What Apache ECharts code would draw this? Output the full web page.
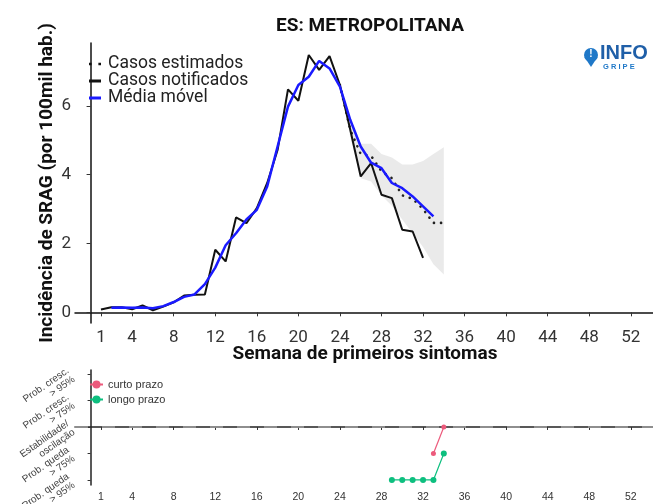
<!DOCTYPE html>
<html><head><meta charset="utf-8">
<script src="https://cdn.jsdelivr.net/npm/echarts@6/dist/echarts.min.js"></script>
<style>html,body{margin:0;padding:0;background:#fff}#c{width:653px;height:504px}</style>
</head><body><div id="c"></div>
<script>
// ---- data ----
const weeks = [1,2,3,4,5,6,7,8,9,10,11,12,13,14,15,16,17,18,19,20,21,22,23,24,25,26,27,28,29,30,31,32];
const notified = [0.08,0.15,0.15,0.09,0.20,0.06,0.17,0.29,0.49,0.51,0.52,1.82,1.48,2.76,2.59,3.03,3.76,4.72,6.48,6.15,7.48,7.05,7.45,6.61,5.30,3.95,4.34,3.42,3.32,2.40,2.35,1.58];
const maWeeks = [2,3,4,5,6,7,8,9,10,11,12,13,14,15,16,17,18,19,20,21,22,23,24,25,26,27,28,29,30,31,32,33];
const movingAvg = [0.13,0.14,0.13,0.14,0.12,0.18,0.30,0.45,0.52,0.82,1.30,1.95,2.30,2.70,2.98,3.66,4.82,5.98,6.61,6.85,7.31,7.09,6.56,5.59,4.82,4.35,4.19,3.76,3.61,3.37,3.08,2.79];
const estWeeks = [24,25,26,27,28,29,30,31,32,33,34];
const estimated = [6.61,5.30,4.60,4.55,4.10,3.90,3.40,3.30,3.00,2.60,2.60];
const bandLow  = [6.61,5.10,3.90,3.80,3.40,3.10,2.70,2.30,1.90,1.40,1.10];
const bandHigh = [6.61,5.50,4.90,4.90,4.60,4.50,4.30,4.30,4.40,4.60,4.80];
const tickWeeks = [1,4,8,12,16,20,24,28,32,36,40,44,48,52];
const yTicks = [0,2,4,6];
const trendLevels = [-2,-1,0,1,2];
const trendLabels = {'-2':'Prob. queda\n> 95%','-1':'Prob. queda\n> 75%','0':'Estabilidade/\noscilação','1':'Prob. cresc.\n> 75%','2':'Prob. cresc.\n> 95%'};
const shortWeeks = [33,34];
const shortTrend = [-1,0];
const longWeeks = [29,30,31,32,33,34];
const longTrend = [-2,-2,-2,-2,-2,-1];

const pairs = (xs, ys) => xs.map((x,i)=>[x, ys[i]]);

const chart = echarts.init(document.getElementById('c'), null, {renderer:'canvas'});
const F = 'Roboto, "Liberation Sans", sans-serif';
const F2 = '"Liberation Sans", Arial, sans-serif';

const option = {
  animation:false,
  backgroundColor:'#fff',
  title:{text:'ES: METROPOLITANA', left:365, top:12, textAlign:'center',
    textStyle:{fontFamily:F, fontSize:19, fontWeight:'bold', color:'#111'}},
  grid:[
    {left:75, top:43, width:587, height:280, outerBoundsMode:'none', containLabel:false},
    {left:75, top:370, width:587, height:115, outerBoundsMode:'none', containLabel:false}
  ],
  xAxis:[
    {gridIndex:0, type:'value', min:-1.5, max:55,
      axisLine:{lineStyle:{color:'#111', width:1.5}},
      axisTick:{customValues:tickWeeks, length:4, lineStyle:{color:'#333'}},
      axisLabel:{customValues:tickWeeks, fontFamily:F, fontSize:17, color:'#333', margin:6, hideOverlap:false},
      splitLine:{show:false}},
    {gridIndex:1, type:'value', min:-1.5, max:55,
      axisLine:{lineStyle:{color:'#222', width:1.5}},
      axisTick:{customValues:tickWeeks, length:3, lineStyle:{color:'#333'}},
      axisLabel:{customValues:tickWeeks, fontFamily:F2, fontSize:10.5, color:'#333', margin:7, hideOverlap:false},
      splitLine:{show:false}}
  ],
  yAxis:[
    {gridIndex:0, type:'value', min:-0.31, max:7.83,
      name:'Incidência de SRAG (por 100mil hab.)', nameLocation:'middle', nameGap:18, nameMoveOverlap:false,
      nameTextStyle:{fontFamily:F, fontSize:19, fontWeight:'bold', color:'#111'},
      axisLine:{show:true, lineStyle:{color:'#111', width:1.5}},
      axisTick:{show:true, customValues:yTicks, length:4, lineStyle:{color:'#333'}},
      axisLabel:{customValues:yTicks, fontFamily:F, fontSize:17, color:'#333', margin:4},
      splitLine:{show:false}},
    {gridIndex:1, type:'value', min:-2.19, max:2.15,
      axisLine:{show:true, lineStyle:{color:'#222', width:1.5}},
      axisTick:{show:true, customValues:trendLevels, length:3, lineStyle:{color:'#333'}},
      axisLabel:{customValues:trendLevels, rotate:35, fontFamily:F2, fontSize:10, color:'#444', margin:4, lineHeight:10.5,
        hideOverlap:false, showMinLabel:true, showMaxLabel:true,
        formatter:v=>trendLabels[String(Math.round(v))] || ''},
      splitLine:{show:false}}
  ],
  legend:[
    {left:84, top:50, orient:'vertical', itemGap:-1, itemWidth:12, itemHeight:3,
      textStyle:{fontFamily:F, fontSize:17.5, lineHeight:16, color:'#222', padding:[0,0,0,2]},
      data:[
        {name:'Casos estimados', icon:'path://M0,0h2.5v2.5h-2.5z M9,0h2.5v2.5h-2.5z'},
        {name:'Casos notificados', icon:'rect'},
        {name:'Média móvel', icon:'rect'}
      ]},
    {left:84, top:374, orient:'vertical', itemGap:4, itemWidth:13, itemHeight:10,
      textStyle:{fontFamily:F2, fontSize:11, color:'#333'},
      data:['curto prazo','longo prazo']}
  ],
  graphic:[
    {type:'text', style:{text:'Semana de primeiros sintomas', x:365, y:345,
      font:'bold 19px '+F, fill:'#111', textAlign:'center'}},
    // logo
    {type:'group', position:[591,55], children:[
      {type:'polygon', shape:{points:[[-6.5,2],[6.5,2],[0,12]]}, style:{fill:'#1f78c8'}},
      {type:'circle', shape:{cx:0, cy:0, r:7}, style:{fill:'#1f78c8'}},
      {type:'text', style:{text:'!', x:0, y:-6, font:'bold 10px '+F2, fill:'#fff', textAlign:'center'}}
    ]},
    {type:'text', style:{text:'INFO', x:600, y:43, font:'bold 20px '+F2, fill:'#1f5fa8'}},
    {type:'text', style:{text:'G R I P E', x:603, y:63, font:'bold 7.5px '+F2, fill:'#1f78c8'}}
  ],
  series:[
    {type:'custom', name:'band', xAxisIndex:0, yAxisIndex:0, silent:true, z:1,
      data:pairs(estWeeks, bandLow),
      renderItem:(params, api)=>{
        if (params.dataIndexInside !== 0) return null;
        const pts = [];
        for (let i=0;i<estWeeks.length;i++) pts.push(api.coord([estWeeks[i], bandHigh[i]]));
        for (let i=estWeeks.length-1;i>=0;i--) pts.push(api.coord([estWeeks[i], bandLow[i]]));
        return {type:'polygon', shape:{points:pts}, style:{fill:'rgba(185,185,185,0.3)'}};
      }},
    {type:'line', name:'Casos estimados', xAxisIndex:0, yAxisIndex:0, data:pairs(estWeeks, estimated),
      symbol:'none', z:3, itemStyle:{color:'#111'},
      lineStyle:{color:'#222', width:2.6, type:[0.1,7], cap:'round'}},
    {type:'line', name:'Casos notificados', xAxisIndex:0, yAxisIndex:0, data:pairs(weeks, notified),
      symbol:'none', z:4, itemStyle:{color:'#111'}, lineStyle:{color:'#111', width:2}},
    {type:'line', name:'Média móvel', xAxisIndex:0, yAxisIndex:0, data:pairs(maWeeks, movingAvg),
      symbol:'none', z:5, itemStyle:{color:'#1a1aff'}, lineStyle:{color:'#1a1aff', width:2.5}},
    {type:'line', name:'curto prazo', xAxisIndex:1, yAxisIndex:1, data:pairs(shortWeeks, shortTrend),
      symbol:'circle', symbolSize:5, z:4, itemStyle:{color:'#ec5a7c'}, lineStyle:{color:'#ec5a7c', width:1.2},
      markLine:{silent:true, symbol:'none', label:{show:false},
        lineStyle:{color:'#a0a0a0', type:[13,14], width:1.5}, data:[{yAxis:0}]}},
    {type:'line', name:'longo prazo', xAxisIndex:1, yAxisIndex:1, data:pairs(longWeeks, longTrend),
      symbol:'circle', symbolSize:6, z:4, itemStyle:{color:'#0dbf7f'}, lineStyle:{color:'#0dbf7f', width:1.2}}
  ]
};
chart.setOption(option);
</script></body></html>
